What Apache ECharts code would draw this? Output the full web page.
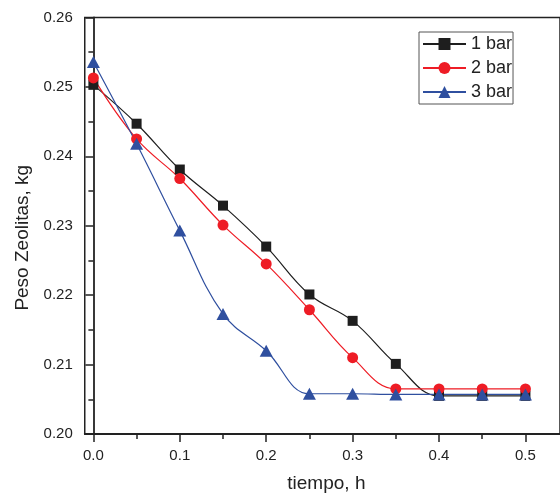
<!DOCTYPE html>
<html>
<head>
<meta charset="utf-8">
<script src="https://cdn.jsdelivr.net/npm/echarts@6/dist/echarts.min.js"></script>
<style>
  html, body { margin: 0; padding: 0; background: #fff; }
  #chart { width: 560px; height: 498px; }
</style>
</head>
<body>
<div id="chart"></div>
<script>
// tiempo (h)
var tiempo = [0, 0.05, 0.1, 0.15, 0.2, 0.25, 0.3, 0.35, 0.4, 0.45, 0.5];
// peso de zeolitas (kg) por presion
var bar1 = [0.2503, 0.2447, 0.2381, 0.2329, 0.2270, 0.2201, 0.2163, 0.2101, 0.2055, 0.2055, 0.2055];
var bar2 = [0.2513, 0.2425, 0.2368, 0.2301, 0.2245, 0.2179, 0.2110, 0.2065, 0.2065, 0.2065, 0.2065];
var bar3 = [0.2536, 0.2418, 0.2293, 0.2173, 0.2120, 0.2058, 0.2058, 0.2057, 0.2057, 0.2057, 0.2057];
var seriesNames = ["1 bar", "2 bar", "3 bar"];
var xMajorTicks = [0, 0.1, 0.2, 0.3, 0.4, 0.5];
var xMinorTicks = [0.05, 0.15, 0.25, 0.35, 0.45];

var font = "'Liberation Sans', Arial, sans-serif";
var ink = "#222";

function pairs(ys) {
  return tiempo.map(function (t, i) { return [t, ys[i]]; });
}

var chart = echarts.init(document.getElementById("chart"));

var option = {
  backgroundColor: "#fff",
  animation: false,
  grid: {
    left: 84.75,
    top: 17.5,
    width: 481,
    height: 417,
    show: true,
    borderColor: ink,
    borderWidth: 1.5
  },
  legend: {
    orient: "vertical",
    left: 419,
    top: 32,
    borderColor: "#555",
    borderWidth: 1,
    padding: [3, 1, 3, 3],
    itemGap: 6,
    itemWidth: 43,
    itemHeight: 15,
    textStyle: { fontSize: 18, color: ink, fontFamily: font },
    data: seriesNames
  },
  xAxis: [
    {
      type: "value",
      position: "bottom",
      min: -0.01,
      max: 0.54,
      splitLine: { show: false },
      axisLine: { lineStyle: { color: ink, width: 1.8 } },
      axisTick: { customValues: xMajorTicks, length: 8, lineStyle: { color: ink, width: 1.5 } },
      axisLabel: {
        customValues: xMajorTicks,
        margin: 14,
        fontSize: 15,
        color: ink,
        fontFamily: font,
        formatter: function (v) { return v.toFixed(1); }
      },
      name: "tiempo, h",
      nameLocation: "middle",
      nameGap: 40,
      nameTextStyle: { fontSize: 19, color: ink, fontFamily: font, padding: [0, 0, 0, 8] }
    },
    {
      type: "value",
      position: "bottom",
      min: -0.01,
      max: 0.54,
      splitLine: { show: false },
      axisLine: { show: false },
      axisTick: { customValues: xMinorTicks, length: 5, lineStyle: { color: ink, width: 1.5 } },
      axisLabel: { show: false }
    }
  ],
  yAxis: {
    type: "value",
    min: 0.20,
    max: 0.26,
    interval: 0.01,
    splitLine: { show: false },
    axisLine: { show: true, lineStyle: { color: ink, width: 1.8 } },
    axisTick: { show: true, length: 8, lineStyle: { color: ink, width: 1.5 } },
    minorTick: { show: true, splitNumber: 2, length: 5, lineStyle: { color: ink, width: 1.5 } },
    axisLabel: {
      margin: 12,
      fontSize: 15,
      color: ink,
      fontFamily: font,
      formatter: function (v) { return v.toFixed(2); }
    },
    name: "Peso Zeolitas, kg",
    nameLocation: "middle",
    nameGap: 52,
    nameTextStyle: { fontSize: 19, color: ink, fontFamily: font, padding: [0, 24, 0, 0] }
  },
  series: [
    {
      name: seriesNames[0],
      type: "line",
      smooth: 0.4,
      data: pairs(bar1),
      symbol: "rect",
      symbolSize: 10,
      itemStyle: { color: "#1e1e1e" },
      lineStyle: { color: "#1e1e1e", width: 1.2 }
    },
    {
      name: seriesNames[1],
      type: "line",
      smooth: 0.4,
      data: pairs(bar2),
      symbol: "circle",
      symbolSize: 11,
      itemStyle: { color: "#ee1c25" },
      lineStyle: { color: "#ee1c25", width: 1.2 }
    },
    {
      name: seriesNames[2],
      type: "line",
      smooth: 0.4,
      data: pairs(bar3),
      symbol: "triangle",
      symbolSize: [13, 12],
      itemStyle: { color: "#2f4f9f" },
      lineStyle: { color: "#2f4f9f", width: 1.2 }
    }
  ]
};

chart.setOption(option);
</script>
</body>
</html>
